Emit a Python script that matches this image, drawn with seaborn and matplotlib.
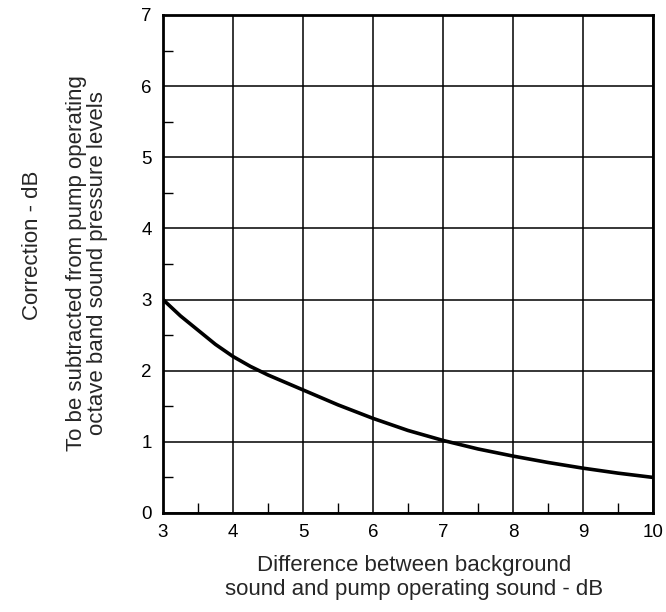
import matplotlib
matplotlib.use("Agg")
import matplotlib.pyplot as plt
from matplotlib.ticker import MultipleLocator
import pandas as pd
import seaborn as sns

# values
difference_db = [3.0, 3.25, 3.5, 3.75, 4.0, 4.25, 4.5, 5.0, 5.5, 6.0, 6.5, 7.0, 7.5, 8.0, 8.5, 9.0, 9.5, 10.0]
correction_db = [3.00, 2.77, 2.57, 2.37, 2.20, 2.06, 1.94, 1.73, 1.52, 1.33, 1.16, 1.02, 0.90, 0.80, 0.71, 0.63, 0.56, 0.50]

x_ticks = [3, 4, 5, 6, 7, 8, 9, 10]
y_ticks = [0, 1, 2, 3, 4, 5, 6, 7]

df = pd.DataFrame({"difference": difference_db, "correction": correction_db})

sns.set_style("white")
plt.rcParams["font.family"] = ["Liberation Sans", "DejaVu Sans"]

fig = plt.figure(figsize=(6.66, 6.12), dpi=100)
ax = fig.add_axes([0.2447, 0.1618, 0.7357, 0.8137])

sns.lineplot(data=df, x="difference", y="correction", color="black", linewidth=2.6, ax=ax)

ax.set_xlim(3, 10)
ax.set_ylim(0, 7)
ax.set_xticks(x_ticks)
ax.set_yticks(y_ticks)
ax.xaxis.set_minor_locator(MultipleLocator(0.5))
ax.yaxis.set_minor_locator(MultipleLocator(0.5))
ax.grid(True, which="major", color="black", linewidth=1.1)
ax.set_axisbelow(True)
ax.tick_params(which="major", length=0, labelsize=13.5, pad=8, colors="black")
ax.tick_params(which="minor", direction="in", length=7, width=1.0, color="black",
               bottom=True, left=True, top=False, right=False)
for s in ax.spines.values():
    s.set_visible(True)
    s.set_color("black")
    s.set_linewidth(2.0)

ax.set_xlabel("")
ax.set_ylabel("")

fig.text(414 / 666, 1 - 565 / 612, "Difference between background", ha="center", va="center", fontsize=16)
fig.text(414 / 666, 1 - 590 / 612, "sound and pump operating sound - dB", ha="center", va="center", fontsize=16)
fig.text(33 / 666, 1 - 245 / 612, "Correction - dB", rotation=90, ha="center", va="center", fontsize=16)
fig.text(77 / 666, 1 - 263 / 612, "To be subtracted from pump operating", rotation=90, ha="center", va="center", fontsize=16)
fig.text(98 / 666, 1 - 263 / 612, "octave band sound pressure levels", rotation=90, ha="center", va="center", fontsize=16)

fig.savefig("out.png", dpi=100)
